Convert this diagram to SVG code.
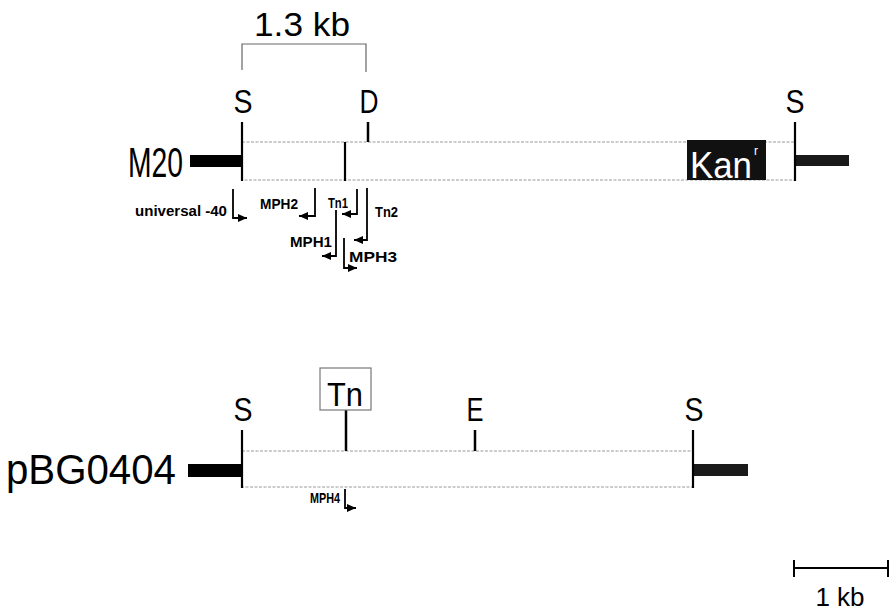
<svg xmlns="http://www.w3.org/2000/svg" width="891" height="614" viewBox="0 0 891 614">
<style>
.t{font-family:"Liberation Sans",Arial,sans-serif;fill:#000}
.big{font-size:42px}
.site{font-size:34px;text-anchor:middle}
.pl{font-size:14px;font-weight:bold}
.box{fill:#fff;stroke:#9a9a9a;stroke-width:1.2;stroke-dasharray:3 1.5}
.edge{stroke:#000;stroke-width:2.2}
.tick{stroke:#000;stroke-width:2.5}
.pr{fill:none;stroke:#000;stroke-width:1.8;marker-end:url(#ah)}
.thin{stroke:#666;stroke-width:1.2;fill:none}
</style>
<defs>
<marker id="ah" markerUnits="userSpaceOnUse" markerWidth="9" markerHeight="8" refX="9" refY="4" orient="auto">
<path d="M0,0 L9,4 L0,8 z" fill="#000"/>
</marker>
</defs>
<rect width="891" height="614" fill="#fff"/>

<g id="m20">
<text class="t big" x="128" y="177" textLength="55" lengthAdjust="spacingAndGlyphs">M20</text>
<rect x="190" y="155" width="52" height="12" fill="#000"/>
<rect x="795" y="155" width="54" height="11" fill="#1a1a1a"/>
<rect class="box" x="242" y="142" width="553" height="38"/>
<line class="edge" x1="242" y1="122" x2="242" y2="181"/>
<line class="edge" x1="795" y1="122" x2="795" y2="181"/>
<line class="edge" x1="345" y1="142" x2="345" y2="181"/>
<line class="tick" x1="368" y1="122" x2="368" y2="142"/>
<text class="t site" x="243" y="113" textLength="19" lengthAdjust="spacingAndGlyphs">S</text>
<text class="t site" x="369" y="113" textLength="19" lengthAdjust="spacingAndGlyphs">D</text>
<text class="t site" x="795" y="113" textLength="19" lengthAdjust="spacingAndGlyphs">S</text>
<rect x="687" y="140" width="79" height="40" fill="#111"/>
<text class="t" x="690" y="178" font-size="36" style="fill:#fff" textLength="62" lengthAdjust="spacingAndGlyphs">Kan</text>
<text class="t" x="754" y="155" font-size="12" style="fill:#fff">r</text>
</g>

<g id="bracket">
<text class="t" x="302" y="36" font-size="34" text-anchor="middle" textLength="96" lengthAdjust="spacingAndGlyphs">1.3 kb</text>
<path class="thin" d="M242,70 V44 H366 V72"/>
</g>

<g id="primers">
<text class="t pl" x="135" y="216" textLength="92" lengthAdjust="spacingAndGlyphs">universal -40</text>
<path class="pr" d="M233,189 V218 H247"/>
<text class="t pl" x="260" y="209" textLength="38" lengthAdjust="spacingAndGlyphs">MPH2</text>
<path class="pr" d="M315,188 V216 H299"/>
<text class="t pl" x="328" y="208" textLength="20" lengthAdjust="spacingAndGlyphs">Tn1</text>
<path class="pr" d="M357,189 V214 H342"/>
<text class="t pl" x="375" y="217" textLength="23" lengthAdjust="spacingAndGlyphs">Tn2</text>
<path class="pr" d="M367,188 V240 H354"/>
<text class="t pl" x="290" y="247" textLength="42" lengthAdjust="spacingAndGlyphs">MPH1</text>
<path class="pr" d="M336,210 V256 H322"/>
<path class="pr" d="M344,238 V268 H357"/>
<text class="t pl" x="349" y="262" textLength="48" lengthAdjust="spacingAndGlyphs">MPH3</text>
</g>

<g id="pbg0404">
<text class="t big" x="6" y="484" textLength="170" lengthAdjust="spacingAndGlyphs">pBG0404</text>
<rect x="188" y="464" width="54" height="13" fill="#000"/>
<rect x="693" y="464" width="55" height="12" fill="#1a1a1a"/>
<rect class="box" x="242" y="451" width="451" height="36"/>
<line class="edge" x1="242" y1="430" x2="242" y2="488"/>
<line class="edge" x1="693" y1="430" x2="693" y2="488"/>
<line class="tick" x1="346" y1="410" x2="346" y2="451"/>
<line class="tick" x1="475" y1="430" x2="475" y2="451"/>
<text class="t site" x="243" y="421" textLength="19" lengthAdjust="spacingAndGlyphs">S</text>
<text class="t site" x="475" y="421" textLength="17" lengthAdjust="spacingAndGlyphs">E</text>
<text class="t site" x="694" y="421" textLength="19" lengthAdjust="spacingAndGlyphs">S</text>
<rect x="320" y="368" width="51" height="42" fill="#fff" stroke="#777" stroke-width="1.2"/>
<text class="t site" x="345" y="406" textLength="36" lengthAdjust="spacingAndGlyphs">Tn</text>
<text class="t pl" x="310" y="503" textLength="30" lengthAdjust="spacingAndGlyphs">MPH4</text>
<path class="pr" d="M345,489 V508 H356"/>
</g>

<g id="scale">
<line x1="794" y1="568" x2="888" y2="568" stroke="#000" stroke-width="1.8"/>
<line x1="794" y1="560" x2="794" y2="577" stroke="#000" stroke-width="2"/>
<line x1="888" y1="560" x2="888" y2="577" stroke="#000" stroke-width="2"/>
<text class="t" x="840" y="606" font-size="26" text-anchor="middle">1 kb</text>
</g>
</svg>
